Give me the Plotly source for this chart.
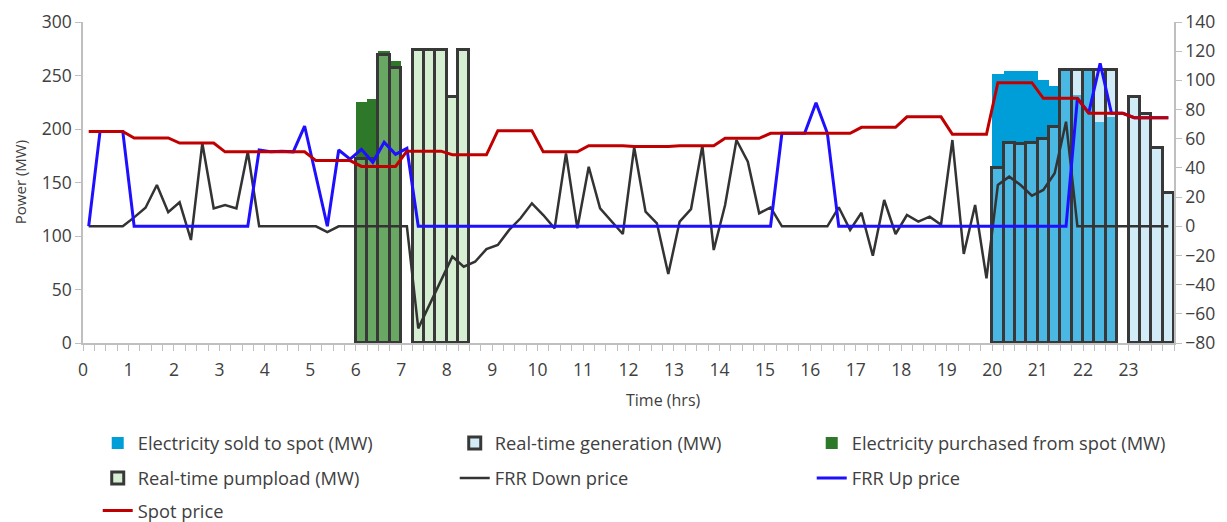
import plotly.graph_objects as go

# quarter-hour slot centres (hours)
slots = [q / 4 + 0.125 for q in range(96)]

spot_price = [
    65, 65, 65, 65, 60.5, 60.5, 60.5, 60.5, 57, 57, 57, 57, 51, 51, 51, 51,
    51, 51, 51, 51, 45, 45, 45, 45, 41, 41, 41, 41, 51.5, 51.5, 51.5, 51.5,
    49, 49, 49, 49, 65.5, 65.5, 65.5, 65.5, 51, 51, 51, 51, 55.2, 55.2, 55.2, 55.2,
    54.6, 54.6, 54.6, 54.6, 55.2, 55.2, 55.2, 55.2, 60.3, 60.3, 60.3, 60.3, 63.7, 63.7, 63.7, 63.7,
    63.7, 63.7, 63.7, 63.7, 67.8, 67.8, 67.8, 67.8, 75, 75, 75, 75, 63, 63, 63, 63,
    98.4, 98.4, 98.4, 98.4, 87.7, 87.7, 87.7, 87.7, 77.4, 77.4, 77.4, 77.4, 74.4, 74.4, 74.4, 74.4,
]

frr_up = [
    0, 65, 65, 65, 0, 0, 0, 0, 0, 0, 0, 0, 0, 0, 0, 52.3,
    51.1, 51.5, 51, 68.7, 34, 0, 52.3, 46, 52.7, 43.8, 57.6, 49.3, 53.4, 0, 0, 0,
    0, 0, 0, 0, 0, 0, 0, 0, 0, 0, 0, 0, 0, 0, 0, 0,
    0, 0, 0, 0, 0, 0, 0, 0, 0, 0, 0, 0, 0, 63.7, 63.7, 63.7,
    84.7, 63.7, 0, 0, 0, 0, 0, 0, 0, 0, 0, 0, 0, 0, 0, 0,
    0, 0, 0, 0, 0, 0, 0, 87.7, 77.8, 111.7, 77.4, 77.4, 74.4, 74.4, 74.4, 74.4,
]

frr_down = [
    0, 0, 0, 0, 6.1, 12.7, 28.3, 9.6, 16.4, -9.4, 56.9, 12.3, 14.6, 12.3, 51.1, 0,
    0, 0, 0, 0, 0, -4, 0, 0, 0, 0, 0, 0, 0, -70, -53.5, -37.3,
    -20.8, -27.7, -24.3, -15.7, -12.8, -2.5, 5.5, 15.7, 7.7, -1.4, 50, -1.4, 40.8, 12.3, 3.2, -5.3,
    54.1, 10, 2, -32.7, 3.2, 11.8, 55.2, -16.3, 14.6, 59.1, 44.3, 8.9, 13, 0, 0, 0,
    0, 0, 13, -2.5, 9.3, -20.2, 18, -5.3, 7.7, 3.2, 6.6, 1.1, 59.1, -19, 14.6, -35.7,
    28.3, 34, 28.3, 21, 24.9, 36.3, 71.7, 0, 0, 0, 0, 0, 0, 0, 0, 0,
]

sold_slots = [80, 81, 82, 83, 84, 85, 86, 87, 88, 89, 90]
sold_mw = [251, 254, 254, 254, 246, 240, 255.5, 232, 255.5, 206.6, 211]

gen_slots = [80, 81, 82, 83, 84, 85, 86, 87, 88, 89, 90, 92, 93, 94, 95]
gen_mw = [164, 187, 186, 186.5, 190.5, 202, 255.5, 255.5, 255.5, 255.5, 255.5, 230, 214, 182, 140]

purchase_slots = [24, 25, 26, 27]
purchase_mw = [225, 228, 273, 264]

pump_slots = [24, 25, 26, 27, 29, 30, 31, 32, 33]
pump_mw = [172, 172, 269, 257, 274, 274, 274, 230, 274]

hour_ticks = list(range(24))
left_ticks = [0, 50, 100, 150, 200, 250, 300]
right_ticks = [-80, -60, -40, -20, 0, 20, 40, 60, 80, 100, 120, 140]

FONT = "Open Sans"
TXT = "#404040"
AX = "#bfbfbf"
OUTLINE = "#383838"

fig = go.Figure()

fig.add_trace(go.Bar(
    x=[slots[i] for i in sold_slots], y=sold_mw, width=0.25,
    name="Electricity sold to spot (MW)",
    marker=dict(color="#009ed9", line=dict(width=0)),
    legend="legend",
))
fig.add_trace(go.Bar(
    x=[slots[i] for i in gen_slots], y=gen_mw, width=0.25,
    name="Real-time generation (MW)",
    marker=dict(color="rgba(159,215,238,0.47)", line=dict(color=OUTLINE, width=3)),
    legend="legend",
))
fig.add_trace(go.Bar(
    x=[slots[i] for i in purchase_slots], y=purchase_mw, width=0.25,
    name="Electricity purchased from spot (MW)",
    marker=dict(color="#2e782a", line=dict(width=0)),
    legend="legend",
))
fig.add_trace(go.Bar(
    x=[slots[i] for i in pump_slots], y=pump_mw, width=0.25,
    name="Real-time pumpload (MW)",
    marker=dict(color="rgba(170,222,162,0.48)", line=dict(color=OUTLINE, width=3)),
    legend="legend2",
))
fig.add_trace(go.Scatter(
    x=slots, y=frr_down, mode="lines", name="FRR Down price",
    line=dict(color="#333333", width=2.5), yaxis="y2", legend="legend2",
))
fig.add_trace(go.Scatter(
    x=slots, y=frr_up, mode="lines", name="FRR Up price",
    line=dict(color="#1e0fff", width=3), yaxis="y2", legend="legend2",
))
fig.add_trace(go.Scatter(
    x=slots, y=spot_price, mode="lines", name="Spot price",
    line=dict(color="#c00000", width=3), yaxis="y2", legend="legend3",
))

leg_common = dict(
    orientation="h", x=0.0135, xanchor="left", yanchor="middle",
    font=dict(family=FONT, size=18.3, color=TXT),
    entrywidth=312, entrywidthmode="pixels",
    bgcolor="rgba(0,0,0,0)", itemclick=False, itemdoubleclick=False,
)

axis_common = dict(
    ticks="outside", ticklen=6, tickcolor=AX, tickwidth=1,
    showline=True, linecolor=AX, linewidth=1.5, showgrid=False, zeroline=False,
    tickfont=dict(family=FONT, size=17.5, color=TXT), automargin=False,
)

fig.update_layout(
    width=1219, height=514,
    margin=dict(l=75.3, r=52.7, t=14, b=179, autoexpand=False),
    paper_bgcolor="white", plot_bgcolor="white",
    barmode="overlay", bargap=0,
    font=dict(family=FONT, size=16, color=TXT),
    xaxis=dict(
        range=[0, 24], tickmode="array", tickvals=hour_ticks, ticklabelstandoff=4,
        minor=dict(dtick=0.25, tick0=0, ticks="outside", ticklen=6, tickcolor=AX, tickwidth=1, showgrid=False),
        **axis_common,
    ),
    yaxis=dict(range=[0, 300], tickmode="array", tickvals=left_ticks, **axis_common),
    yaxis2=dict(
        range=[-80, 140], tickmode="array", tickvals=right_ticks,
        overlaying="y", side="right", **axis_common,
    ),
    legend=dict(**leg_common, y=-0.312),
    legend2=dict(**leg_common, y=-0.421),
    legend3=dict(**leg_common, y=-0.522),
    annotations=[
        dict(text="Power (MW)", textangle=-90, x=(20 - 83.3) / 1091, y=0.5, xref="paper", yref="paper",
             xanchor="center", yanchor="middle",
             showarrow=False, font=dict(family=FONT, size=15, color=TXT)),
        dict(text="Time (hrs)", x=(664 - 83.3) / 1091, y=-0.1776, xref="paper", yref="paper",
             xanchor="center", yanchor="middle",
             showarrow=False, font=dict(family=FONT, size=16, color=TXT)),
    ],
)

fig.write_html("out.html")
